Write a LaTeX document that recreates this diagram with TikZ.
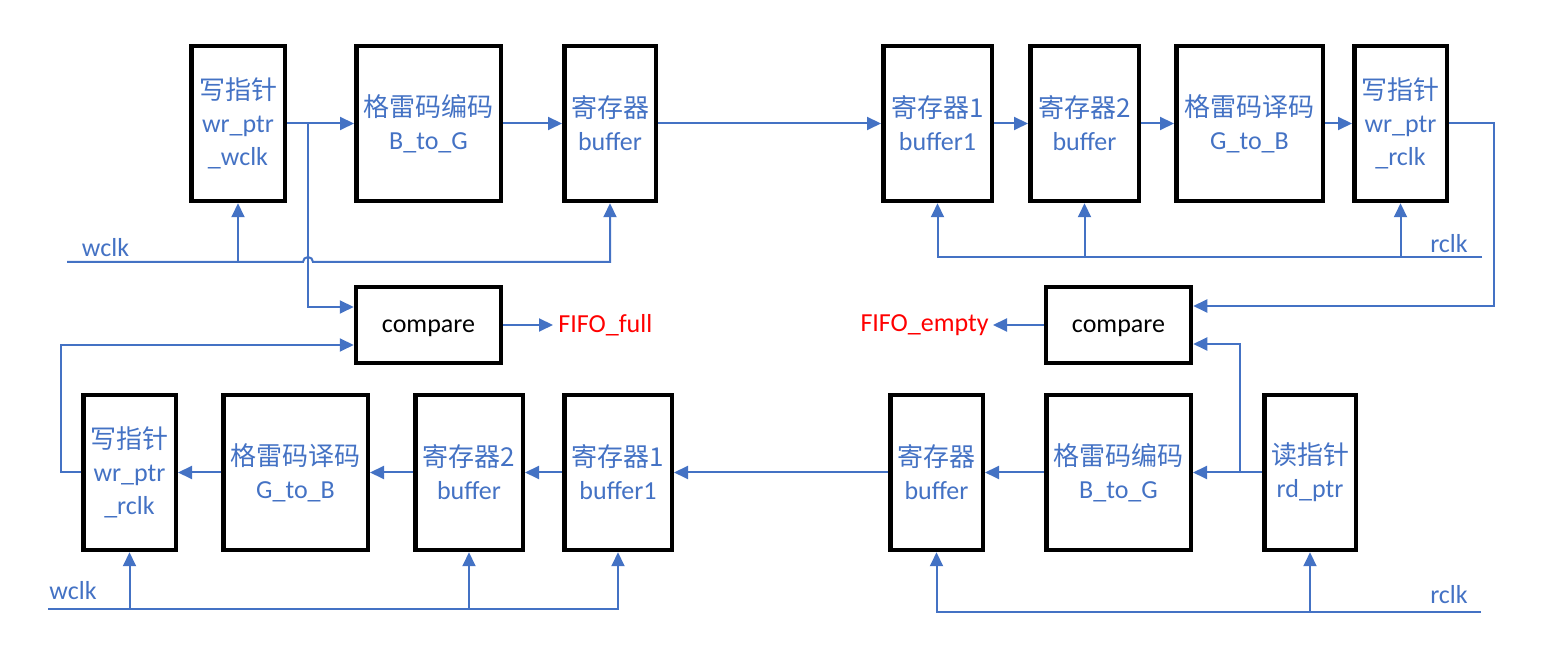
\documentclass[tikz,border=0pt]{standalone}
\usepackage{fontspec}
\setmainfont{Carlito}
\newfontfamily\zh{Noto Sans CJK SC}
\usetikzlibrary{arrows.meta}
\definecolor{lineblue}{HTML}{4472C4}
\definecolor{flagred}{HTML}{FF0000}

\tikzset{
  blk/.style={draw=black,line width=2.25pt,minimum height=77.5pt,inner sep=0pt,align=center,text=lineblue},
  cmpbox/.style={draw=black,line width=2.25pt,minimum width=72.5pt,minimum height=38pt,inner sep=0pt,text height=0.9em,text depth=0.19em},
  sig/.style={draw=lineblue,line width=1pt,-{Triangle[length=7pt,width=6.5pt]}},
  lbl/.style={text=lineblue,inner sep=0pt},
}

\begin{document}
\begin{tikzpicture}[x=0.5pt,y=-0.5pt,font=\fontsize{13}{16.5}\selectfont]
        \useasboundingbox (0,0) rectangle (1547,656);

        \node[blk,minimum width=46.75pt] (wptrw) at (238,123.5)    {{\zh 写指针}\\wr\_ptr\\\_wclk};
        \node[blk,minimum width=72.25pt] (encw) at (428.5,123.5)   {{\zh 格雷码编码}\\B\_to\_G};
        \node[blk,minimum width=45.75pt] (bufw) at (610,123.5)     {{\zh 寄存器}\\buffer};
        \node[blk,minimum width=54.25pt] (buf1r) at (937.5,123.5)  {{\zh 寄存器1}\\buffer1};
        \node[blk,minimum width=54.25pt] (buf2r) at (1084.5,123.5) {{\zh 寄存器2}\\buffer};
        \node[blk,minimum width=73.25pt] (decr) at (1249.5,123.5)  {{\zh 格雷码译码}\\G\_to\_B};
        \node[blk,minimum width=46.25pt] (wptrr) at (1400.5,123.5) {{\zh 写指针}\\wr\_ptr\\\_rclk};

        \node[cmpbox] (cmpfull) at (428.5,325)   {compare};
        \node[cmpbox] (cmpempty) at (1118.5,325) {compare};

        \node[blk,minimum width=46.25pt] (wptrb) at (129.5,472.5) {{\zh 写指针}\\wr\_ptr\\\_rclk};
        \node[blk,minimum width=72.25pt] (decb) at (295.5,472.5)  {{\zh 格雷码译码}\\G\_to\_B};
        \node[blk,minimum width=53.75pt] (buf2b) at (469,472.5)   {{\zh 寄存器2}\\buffer};
        \node[blk,minimum width=53.75pt] (buf1b) at (618,472.5)   {{\zh 寄存器1}\\buffer1};
        \node[blk,minimum width=46.25pt] (bufr) at (936.5,472.5)  {{\zh 寄存器}\\buffer};
        \node[blk,minimum width=72.25pt] (encr) at (1118.5,472.5) {{\zh 格雷码编码}\\B\_to\_G};
        \node[blk,minimum width=45.75pt] (rptr) at (1310,472.5)   {{\zh 读指针}\\rd\_ptr};

        \node[lbl,text=flagred,anchor=west,inner sep=2.5pt] (full) at (553,325) {FIFO\_full};
        \node[lbl,text=flagred,anchor=east,inner sep=2pt] (empty) at (993,325) {FIFO\_empty};

        \node[lbl] (wclktop) at (105.5,248) {wclk};
        \node[lbl] (rclktop) at (1449,244)  {rclk};
        \node[lbl] (wclkbot) at (73,591)    {wclk};
        \node[lbl] (rclkbot) at (1449,595)  {rclk};

        \coordinate (tap1) at (308,123.5);
        \coordinate (hop) at (303,262);
        \coordinate (wclkA) at (67,262);
        \coordinate (rclkA) at (1482,257);
        \coordinate (loopR) at (1494,0);
        \coordinate (tap2) at (1240,472.5);
        \coordinate (wclkB) at (48,609);
        \coordinate (rclkB) at (1481,612);

	\draw[sig] (wptrw) -- (encw);
	\draw[sig] (encw) -- (bufw);
	\draw[sig] (bufw) -- (buf1r);
	\draw[sig] (buf1r) -- (buf2r);
	\draw[sig] (buf2r) -- (decr);
	\draw[sig] (decr) -- (wptrr);
	\draw[sig] (tap1) |- ([yshift=9pt]cmpfull.west);
	\draw[sig] (wclkA) -- (hop) arc[start angle=180,end angle=0,radius=2.5pt] -| (bufw.south);
	\draw[sig] (wptrw.south |- wclkA) -- (wptrw.south);
	\draw[sig] (rclkA) -| (buf1r.south);
	\draw[sig] (buf2r.south |- rclkA) -- (buf2r.south);
	\draw[sig] (wptrr.south |- rclkA) -- (wptrr.south);
	\draw[sig] (wptrr.east) -- (wptrr.east -| loopR) |- ([yshift=9.5pt]cmpempty.east);

	\draw[sig] (cmpfull) -- (full);
	\draw[sig] (cmpempty) -- (empty);
	\draw[sig] (wptrb.west) -- ++(-10pt,0) |- ([yshift=-10pt]cmpfull.west);
	\draw[sig] (tap2) |- ([yshift=-9.5pt]cmpempty.east);

	\draw[sig] (rptr) -- (encr);
	\draw[sig] (encr) -- (bufr);
	\draw[sig] (bufr) -- (buf1b);
	\draw[sig] (buf1b) -- (buf2b);
	\draw[sig] (buf2b) -- (decb);
	\draw[sig] (decb) -- (wptrb);
	\draw[sig] (wclkB) -| (buf1b.south);
	\draw[sig] (wptrb.south |- wclkB) -- (wptrb.south);
	\draw[sig] (buf2b.south |- wclkB) -- (buf2b.south);
	\draw[sig] (rclkB) -| (bufr.south);
	\draw[sig] (rptr.south |- rclkB) -- (rptr.south);
\end{tikzpicture}
\end{document}
